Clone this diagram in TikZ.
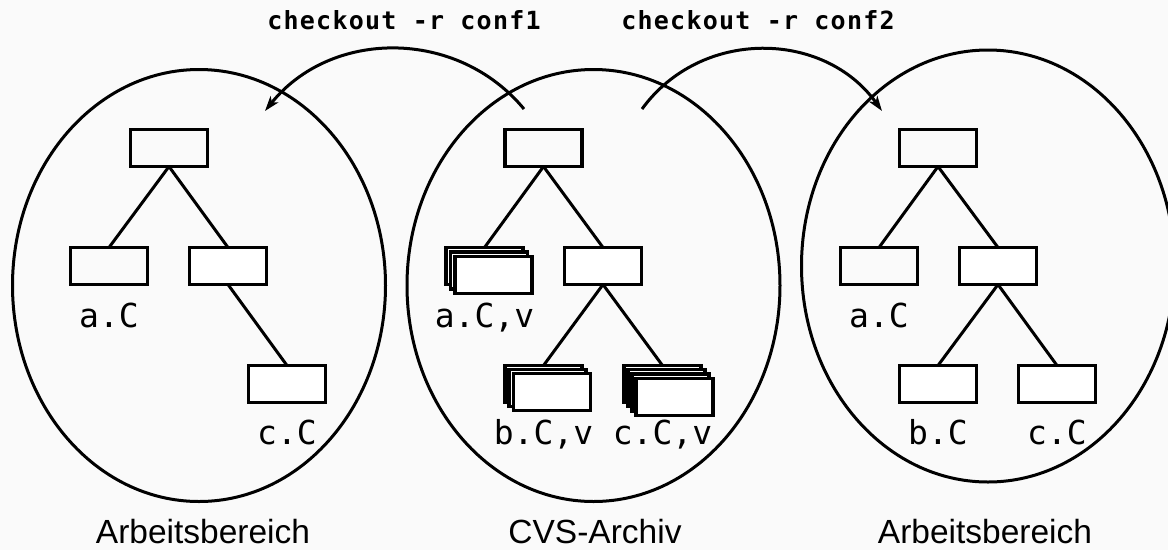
\documentclass[tikz,border=0pt]{standalone}
\usepackage{fontspec}
\setmainfont{Liberation Sans}
\setmonofont{DejaVu Sans Mono}
\newfontfamily\cmdfont[LetterSpace=5]{DejaVu Sans Mono}
\usetikzlibrary{shapes.geometric,arrows.meta}
\definecolor{bg}{RGB}{250,250,250}
\begin{document}
\begin{tikzpicture}[x=1pt,y=-1pt,
  box/.style={draw, line width=3.3pt, minimum width=77pt, minimum height=37pt, inner sep=0pt, outer sep=0pt},
  wbox/.style={box, fill=white},
  ebox/.style={box, fill=bg},
  oval/.style={draw, ellipse, line width=3pt, minimum width=373pt, minimum height=432pt, inner sep=0pt},
  link/.style={line width=3pt},
  lbl/.style={anchor=base, inner sep=0pt, font=\ttfamily\fontsize{33}{36}\selectfont},
  cmd/.style={anchor=base, inner sep=0pt, font=\cmdfont\bfseries\fontsize{25}{28}\selectfont},
  area/.style={anchor=base, inner sep=0pt, font=\fontsize{33.5}{36}\selectfont},
  arr/.style={line width=3pt, -{Stealth[length=15pt,width=10pt,inset=4pt]}}
]
\fill[bg] (0,0) rectangle (1168,550);
\useasboundingbox (0,0) rectangle (1168,550);
\clip (0,0) rectangle (1168,550);

% ellipses
\node[oval] (wsL) at (199,285.5) {};
\node[oval] (cvs) at (593.5,285.5) {};
\node[oval] (wsR) at (988,266) {};

% checkout arrows
\coordinate (s1) at (524,109);
\coordinate (e1) at (265,111);
\coordinate (s2) at (642,109);
\coordinate (e2) at (882,111);
\draw[arr] (s1) .. controls (457,28) and (331,29) .. (e1);
\draw[arr] (s2) .. controls (701,28) and (824,30) .. (e2);
\node[cmd] (c1) at (404,29) {checkout -r conf1};
\node[cmd] (c2) at (758,29) {checkout -r conf2};

% ---------- left working area ----------
\node[ebox] (Lr) at (169,148) {};
\node[ebox] (La) at (109,266) {};
\node[wbox] (Lm) at (228,266) {};
\node[wbox] (Lc) at (287,384) {};
\draw[link] (Lr.south) -- (La.north);
\draw[link] (Lr.south) -- (Lm.north);
\draw[link] (Lm.south) -- (Lc.north);
\node[lbl] (LaT) at (109,327) {a.C};
\node[lbl] (LcT) at (287,444) {c.C};
\node[area] (LT) at (203,543) {Arbeitsbereich};

% ---------- CVS archive ----------
\node[ebox] (Mr) at (543.5,148) {};
\node[wbox] (Mm) at (603,266) {};
\node[wbox] (Ma1) at (484.5,266) {};
\node[wbox] (Ma2) at (489,270.5) {};
\node[wbox] (Ma3) at (493.5,275) {};
\node[wbox] (Mb1) at (543.5,384) {};
\node[wbox] (Mb2) at (547.5,388) {};
\node[wbox] (Mb3) at (552,392) {};
\node[wbox] (Mc1) at (662.5,384) {};
\node[wbox] (Mc2) at (666.5,388) {};
\node[wbox] (Mc3) at (670.5,392.5) {};
\node[wbox] (Mc4) at (674.5,397) {};
\draw[link] (Mr.south) -- (Ma1.north);
\draw[link] (Mr.south) -- (Mm.north);
\draw[link] (Mm.south) -- (Mb1.north);
\draw[link] (Mm.south) -- (Mc1.north);
\node[lbl] (MaT) at (484.5,327) {a.C,v};
\node[lbl] (MbT) at (543.5,444) {b.C,v};
\node[lbl] (McT) at (662.5,444) {c.C,v};
\node[area] (MT) at (595,543) {CVS-Archiv};

% ---------- right working area ----------
\node[ebox] (Rr) at (938,148) {};
\node[ebox] (Ra) at (879,266) {};
\node[wbox] (Rm) at (998,266) {};
\node[wbox] (Rb) at (938,384) {};
\node[wbox] (Rc) at (1057,384) {};
\draw[link] (Rr.south) -- (Ra.north);
\draw[link] (Rr.south) -- (Rm.north);
\draw[link] (Rm.south) -- (Rb.north);
\draw[link] (Rm.south) -- (Rc.north);
\node[lbl] (RaT) at (879,327) {a.C};
\node[lbl] (RbT) at (938,444) {b.C};
\node[lbl] (RcT) at (1057,444) {c.C};
\node[area] (RT) at (985,543) {Arbeitsbereich};
\end{tikzpicture}
\end{document}
